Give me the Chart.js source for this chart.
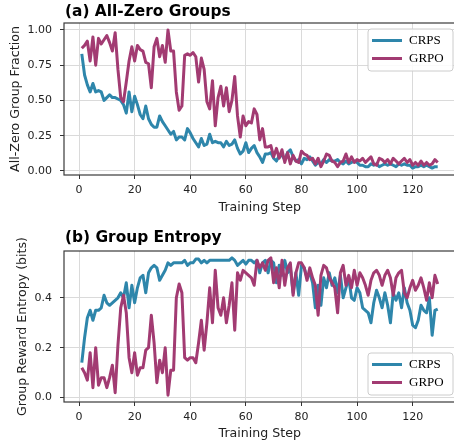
<!DOCTYPE html>
<html><head><meta charset="utf-8">
<script src="https://cdn.jsdelivr.net/npm/chart.js@4.4.1/dist/chart.umd.min.js"></script>
<style>
html,body{margin:0;padding:0;background:#fff;overflow:hidden;width:454px;height:444px;}
#wrap{position:relative;width:454px;height:444px;overflow:hidden;background:#fff;}
.c{position:absolute;left:0;}
</style></head><body>
<div id="wrap">
<canvas id="c1" class="c" style="top:0" width="460" height="222"></canvas>
<canvas id="c2" class="c" style="top:228px" width="460" height="218"></canvas>
</div>
<script>
const steps=[1,2,3,4,5,6,7,8,9,10,11,12,13,14,15,16,17,18,19,20,21,22,23,24,25,26,27,28,29,30,31,32,33,34,35,36,37,38,39,40,41,42,43,44,45,46,47,48,49,50,51,52,53,54,55,56,57,58,59,60,61,62,63,64,65,66,67,68,69,70,71,72,73,74,75,76,77,78,79,80,81,82,83,84,85,86,87,88,89,90,91,92,93,94,95,96,97,98,99,100,101,102,103,104,105,106,107,108,109,110,111,112,113,114,115,116,117,118,119,120,121,122,123,124,125,126,127,128,129];

const seriesNames=['CRPS','GRPO'];

const crpsZero=[0.83,0.68,0.61,0.56,0.62,0.56,0.57,0.56,0.50,0.52,
0.54,0.52,0.52,0.51,0.50,0.47,0.41,0.56,0.42,0.53,
0.47,0.40,0.37,0.46,0.37,0.33,0.31,0.31,0.39,0.35,
0.32,0.29,0.26,0.28,0.22,0.24,0.24,0.22,0.30,0.27,
0.23,0.20,0.17,0.23,0.18,0.19,0.26,0.20,0.21,0.20,
0.20,0.17,0.21,0.18,0.19,0.22,0.16,0.12,0.14,0.20,
0.13,0.16,0.18,0.13,0.10,0.06,0.12,0.12,0.13,0.09,
0.07,0.11,0.11,0.08,0.13,0.15,0.10,0.07,0.08,0.05,
0.09,0.08,0.10,0.07,0.04,0.06,0.05,0.08,0.06,0.08,
0.07,0.07,0.08,0.06,0.05,0.07,0.05,0.06,0.07,0.06,
0.04,0.04,0.03,0.03,0.05,0.04,0.05,0.03,0.04,0.05,
0.04,0.05,0.04,0.03,0.05,0.04,0.05,0.04,0.04,0.02,
0.03,0.03,0.04,0.03,0.04,0.03,0.02,0.03,0.03];

const grpoZero=[0.87,0.89,0.92,0.78,0.95,0.75,0.94,0.90,0.93,0.96,
0.91,0.85,0.98,0.72,0.52,0.49,0.63,0.78,0.88,0.78,
0.89,0.86,0.85,0.77,0.76,0.59,0.88,0.94,0.81,0.89,
0.77,1.00,0.85,0.85,0.56,0.43,0.46,0.82,0.83,0.82,
0.84,0.81,0.63,0.80,0.72,0.49,0.44,0.64,0.32,0.52,
0.60,0.46,0.59,0.42,0.50,0.67,0.39,0.24,0.39,0.32,
0.35,0.34,0.44,0.40,0.22,0.30,0.17,0.17,0.18,0.10,
0.16,0.09,0.15,0.06,0.13,0.05,0.11,0.07,0.06,0.14,
0.12,0.11,0.08,0.09,0.05,0.09,0.03,0.07,0.12,0.11,
0.07,0.06,0.03,0.06,0.07,0.12,0.06,0.10,0.06,0.08,
0.07,0.09,0.06,0.08,0.10,0.05,0.04,0.09,0.08,0.06,
0.08,0.05,0.09,0.07,0.05,0.07,0.09,0.06,0.08,0.04,
0.06,0.04,0.07,0.04,0.06,0.04,0.05,0.08,0.06];

const crpsEntropy=[0.14,0.24,0.32,0.35,0.31,0.35,0.35,0.36,0.41,0.38,
0.37,0.38,0.39,0.40,0.42,0.40,0.46,0.36,0.45,0.38,
0.44,0.48,0.49,0.42,0.50,0.52,0.53,0.52,0.47,0.49,
0.51,0.54,0.53,0.54,0.54,0.54,0.54,0.55,0.53,0.54,
0.54,0.555,0.555,0.54,0.55,0.54,0.55,0.55,0.55,0.55,
0.55,0.55,0.55,0.55,0.56,0.55,0.53,0.54,0.55,0.535,
0.55,0.55,0.54,0.55,0.50,0.54,0.55,0.50,0.55,0.54,
0.46,0.53,0.49,0.55,0.50,0.52,0.42,0.50,0.41,0.53,
0.52,0.48,0.50,0.46,0.36,0.45,0.37,0.48,0.44,0.50,
0.45,0.48,0.42,0.49,0.40,0.44,0.48,0.40,0.39,0.44,
0.42,0.36,0.35,0.34,0.30,0.38,0.43,0.40,0.36,0.42,
0.37,0.30,0.42,0.39,0.42,0.36,0.44,0.38,0.35,0.29,
0.28,0.31,0.37,0.35,0.34,0.40,0.25,0.35,0.355];

const grpoEntropy=[0.12,0.10,0.07,0.18,0.04,0.20,0.05,0.08,0.08,0.04,
0.08,0.13,0.02,0.21,0.36,0.41,0.34,0.16,0.10,0.18,
0.09,0.12,0.12,0.19,0.20,0.33,0.22,0.06,0.15,0.10,
0.20,0.01,0.11,0.11,0.40,0.455,0.42,0.16,0.15,0.16,
0.16,0.14,0.22,0.31,0.19,0.30,0.44,0.30,0.51,0.36,
0.33,0.40,0.30,0.37,0.46,0.27,0.50,0.47,0.51,0.50,
0.49,0.48,0.45,0.55,0.52,0.54,0.51,0.55,0.56,0.46,
0.52,0.44,0.55,0.45,0.52,0.54,0.41,0.50,0.54,0.54,
0.52,0.47,0.52,0.48,0.45,0.33,0.49,0.53,0.52,0.48,
0.46,0.44,0.34,0.50,0.53,0.45,0.49,0.44,0.51,0.45,
0.50,0.48,0.45,0.41,0.47,0.50,0.51,0.49,0.45,0.49,
0.51,0.48,0.41,0.48,0.50,0.51,0.42,0.40,0.44,0.47,
0.43,0.45,0.48,0.44,0.39,0.46,0.40,0.49,0.455];

const xTicks=[0,20,40,60,80,100,120];
const yTicksZero=[0,0.25,0.5,0.75,1.0];
const yTicksEntropy=[0,0.2,0.4];

const COLORS=['#2E86AB','#A23B72'];

const decor={
  id:'decor',
  afterDatasetsDraw(chart,args,o){
    const ctx=chart.ctx,a=chart.chartArea;
    ctx.save();
    ctx.strokeStyle='#3a3a3a';ctx.lineWidth=1.2;
    ctx.strokeRect(a.left,a.top,a.right-a.left,a.bottom-a.top);
    const bw=85,bh=42;
    const bx=a.right-bw-2.5;
    const by=o.legend==='top'?a.top+6:a.bottom-7-bh;
    const r=3;
    ctx.beginPath();
    ctx.moveTo(bx+r,by);ctx.lineTo(bx+bw-r,by);ctx.quadraticCurveTo(bx+bw,by,bx+bw,by+r);
    ctx.lineTo(bx+bw,by+bh-r);ctx.quadraticCurveTo(bx+bw,by+bh,bx+bw-r,by+bh);
    ctx.lineTo(bx+r,by+bh);ctx.quadraticCurveTo(bx,by+bh,bx,by+bh-r);
    ctx.lineTo(bx,by+r);ctx.quadraticCurveTo(bx,by,bx+r,by);ctx.closePath();
    ctx.fillStyle='rgba(255,255,255,0.85)';ctx.fill();
    ctx.strokeStyle='#cccccc';ctx.lineWidth=1;ctx.stroke();
    const rows=[by+11.5,by+29.5];
    chart.data.datasets.forEach((ds,i)=>{
      const y=rows[i];
      ctx.beginPath();ctx.moveTo(bx+4,y);ctx.lineTo(bx+34,y);
      ctx.strokeStyle=ds.borderColor;ctx.lineWidth=3;ctx.lineCap='butt';ctx.stroke();
      ctx.fillStyle='#000';ctx.font='13px "Liberation Serif", "Times New Roman", serif';
      ctx.textBaseline='middle';ctx.textAlign='left';
      ctx.fillText(ds.label,bx+41,y+0.5);
    });
    ctx.restore();
  },
  afterDraw(chart,args,o){
    const ctx=chart.ctx;
    ctx.save();
    ctx.fillStyle='#000';
    ctx.font='bold 15.4px "DejaVu Sans", sans-serif';
    ctx.textBaseline='middle';ctx.textAlign='left';
    ctx.fillText(o.title,65,o.titleY);
    ctx.restore();
  }
};

function makeChart(id,cfg){
  const ctx=document.getElementById(id);
  const tickFont={family:'"DejaVu Sans", sans-serif',size:11};
  const titleFont={family:'"DejaVu Sans", sans-serif',size:12.6};
  const gridCfg={color:'#dadada',lineWidth:1,borderDash:[4,2],drawTicks:true,tickLength:4,tickColor:'#333',tickWidth:1,tickBorderDash:[]};
  return new Chart(ctx,{
    type:'line',
    data:{datasets:[
      {label:seriesNames[0],data:steps.map((s,i)=>({x:s,y:cfg.a[i]})),borderColor:COLORS[0],backgroundColor:COLORS[0],borderWidth:3,pointRadius:0,tension:0,borderJoinStyle:'round',order:1},
      {label:seriesNames[1],data:steps.map((s,i)=>({x:s,y:cfg.b[i]})),borderColor:COLORS[1],backgroundColor:COLORS[1],borderWidth:3,pointRadius:0,tension:0,borderJoinStyle:'round',order:0}
    ]},
    options:{
      responsive:false,animation:false,
      layout:{padding:{top:23,left:cfg.padLeft,right:4.5,bottom:cfg.padBottom}},
      plugins:{legend:{display:false},tooltip:{enabled:false},title:{display:false},
        decor:{title:cfg.title,titleY:cfg.titleY,legend:cfg.legend}},
      scales:{
        x:{type:'linear',min:-5.4,max:135.4,
          afterBuildTicks:(s)=>{s.ticks=xTicks.map(v=>({value:v}));},
          afterFit:(s)=>{s.height=cfg.xHeight;},
          border:{display:false},
          grid:gridCfg,
          ticks:{font:tickFont,color:'#222',padding:5,maxRotation:0,callback:(v)=>String(v)},
          title:{display:true,text:'Training Step',font:titleFont,color:'#222',padding:{top:2,bottom:4}}
        },
        y:{type:'linear',min:cfg.ymin,max:cfg.ymax,
          afterBuildTicks:(s)=>{s.ticks=cfg.yTicks.map(v=>({value:v}));},
          afterFit:(s)=>{s.width=64-cfg.padLeft;},
          border:{display:false},
          grid:gridCfg,
          ticks:{font:tickFont,color:'#222',padding:8,callback:(v)=>v.toFixed(cfg.dec)},
          title:{display:true,text:cfg.yTitle,font:titleFont,color:'#222',padding:{top:4,bottom:4}}
        }
      }
    },
    plugins:[decor]
  });
}

makeChart('c1',{a:crpsZero,b:grpoZero,ymin:-0.029,ymax:1.049,yTicks:yTicksZero,dec:2,
  yTitle:'All-Zero Group Fraction',title:'(a) All-Zero Groups',titleY:12,legend:'top',
  padLeft:3.7,padBottom:2.4,xHeight:44.6});
makeChart('c2',{a:crpsEntropy,b:grpoEntropy,ymin:-0.0175,ymax:0.5875,yTicks:yTicksEntropy,dec:1,
  yTitle:'Group Reward Entropy (bits)',title:'(b) Group Entropy',titleY:10,legend:'bottom',
  padLeft:11,padBottom:0.7,xHeight:43.3});
</script>
</body></html>
